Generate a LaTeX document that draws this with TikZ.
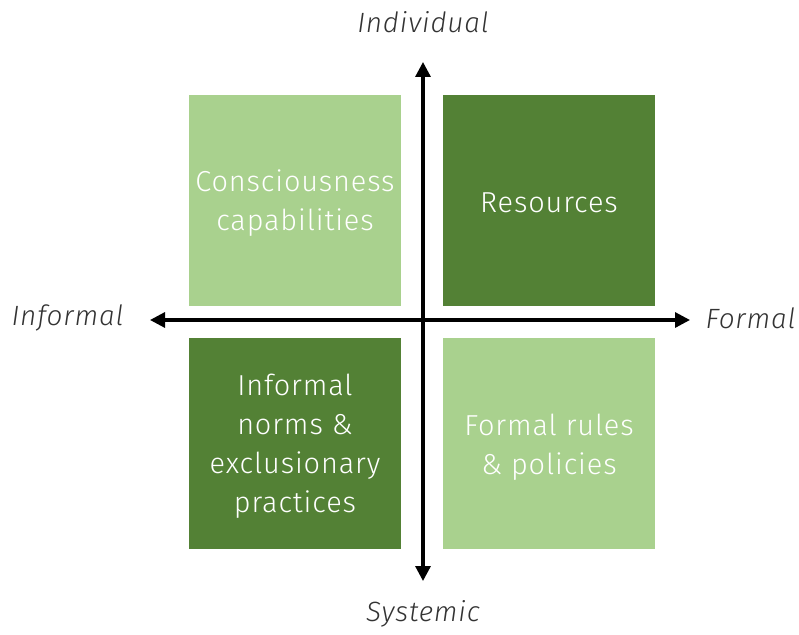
\documentclass[tikz,border=0pt]{standalone}
\usepackage{fontspec}
\setmainfont{Fira Sans Light}[ItalicFont={Fira Sans Light Italic}]
\newfontfamily\boxfont{Fira Sans Light}[LetterSpace=3]
\newfontfamily\axisfont{Fira Sans Light Italic}[LetterSpace=3]
\usetikzlibrary{arrows.meta}
\definecolor{lightgreen}{HTML}{A9D18E}
\definecolor{darkgreen}{HTML}{538135}
\begin{document}
\begin{tikzpicture}[x=1bp,y=-1bp,
  quad/.style={minimum width=212bp,minimum height=211bp,inner sep=0pt,
    fill=#1},
  quadtext/.style={text=white,align=center,font=\boxfont\fontsize{29}{39}\selectfont},
  axis/.style={line width=3.2bp,-{Triangle[length=15bp,width=15bp]}},
  axislabel/.style={font=\axisfont\fontsize{28}{32}\selectfont,text=black!80}]
\useasboundingbox (0,0) rectangle (799,635);
% four quadrants
\node[quad=lightgreen] (cc) at (295,200.5) {};
\node[quad=darkgreen] (res) at (549,200.5) {};
\node[quad=darkgreen] (inf) at (295,443.5) {};
\node[quad=lightgreen] (frm) at (549,443.5) {};
\node[quadtext] (cct) at ([yshift=-3bp]cc.center) {Consciousness\\capabilities};
\node[quadtext] (rest) at ([yshift=-2bp]res.center) {Resources};
\node[quadtext] (inft) at ([yshift=-3bp]inf.center) {Informal\\norms \&\\exclusionary\\practices};
\node[quadtext] (frmt) at ([yshift=-4bp]frm.center) {Formal rules\\\& policies};
% axes
\coordinate (c) at (423,320);
\coordinate (top) at (423,62);
\coordinate (bot) at (423,581);
\coordinate (left) at (150,320);
\coordinate (right) at (690,320);
\draw[axis] (c) -- (top);
\draw[axis] (c) -- (bot);
\draw[axis] (c) -- (left);
\draw[axis] (c) -- (right);
\node[axislabel] (ind) at (423,22) {Individual};
\node[axislabel] (sys) at (423,614) {Systemic};
\node[axislabel,anchor=east] (inl) at (127,318) {Informal};
\node[axislabel,anchor=west] (fml) at (702,318) {Formal};
\end{tikzpicture}
\end{document}
